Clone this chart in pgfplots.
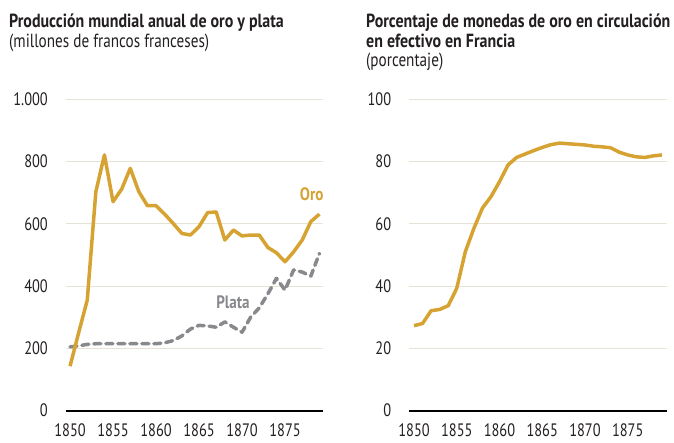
\documentclass[border=0pt]{standalone}
\usepackage{pgfplots}
\pgfplotsset{compat=1.18}
\usepackage{fontspec}
\setmainfont{PT Sans}[FakeStretch=0.8, BoldFeatures={FakeStretch=0.84}]
\definecolor{oro}{RGB}{214,163,51}
\definecolor{plata}{RGB}{136,137,141}
\definecolor{gridc}{RGB}{230,226,212}
\definecolor{txt}{RGB}{35,31,32}
\pgfplotsset{
  mystyle/.style={
    scale only axis,
    anchor=south west,
    axis line style={draw=none},
    major tick length=0pt,
    ymajorgrids,
    grid style={gridc, line width=1pt},
    extra y tick style={grid style={black, line width=2pt}},
    clip=false,
    xtick={1850,1855,1860,1865,1870,1875},
    xticklabels={1850,1855,1860,1865,1870,1875},
    /pgf/number format/assume math mode=true,
    ticklabel style={font=\fontsize{18}{20}\selectfont, text=txt},
    yticklabel style={anchor=east, inner sep=0pt, xshift=-18pt},
    xticklabel style={anchor=north, inner sep=0pt, yshift=-13pt},
  }
}
\begin{document}
\begin{tikzpicture}
\useasboundingbox (0,0) rectangle (674pt,443pt);
% left chart
\begin{axis}[mystyle,
  at={(66pt,32.3pt)}, width=256.7pt, height=311.5pt,
  xmin=1849.53, xmax=1879.38, ymin=0, ymax=1000,
  ytick={200,400,600,800,1000},
  yticklabels={200,400,600,800,1.000},
  extra y ticks={0}, extra y tick labels={0},
]
\addplot[plata, line width=3.5pt, dash pattern=on 7pt off 5pt, line cap=round, line join=round] coordinates {
(1850,205)(1851,208)(1852,213)(1853,215)(1854,215)(1855,215)(1856,215)(1857,215)(1858,215)(1859,215)
(1860,215)(1861,218)(1862,225)(1863,240)(1864,262)(1865,274)(1866,272)(1867,268)(1868,285)(1869,268)
(1870,252)(1871,300)(1872,330)(1873,375)(1874,425)(1875,387)(1876,452)(1877,445)(1878,432)(1879,505)};
\addplot[oro, line width=3.5pt, line join=round] coordinates {
(1850,143)(1851,250)(1852,355)(1853,703)(1854,821)(1855,671)(1856,711)(1857,778)(1858,703)(1859,658)
(1860,658)(1861,631)(1862,601)(1863,569)(1864,564)(1865,591)(1866,636)(1867,638)(1868,548)(1869,580)
(1870,561)(1871,564)(1872,564)(1873,524)(1874,507)(1875,478)(1876,510)(1877,548)(1878,607)(1879,631)};
\node[text=oro, font=\bfseries\fontsize{18}{20}\selectfont] at (axis cs:1878.1,696) {Oro};
\node[text=plata, font=\bfseries\fontsize{18}{20}\selectfont] at (axis cs:1868.95,347) {Plata};
\end{axis}
% right chart
\begin{axis}[mystyle,
  at={(409.3pt,32.3pt)}, width=258pt, height=311.5pt,
  xmin=1849.45, xmax=1879.63, ymin=0, ymax=100,
  ytick={20,40,60,80,100},
  yticklabels={20,40,60,80,100},
  extra y ticks={0}, extra y tick labels={0},
]
\addplot[oro, line width=3.5pt, line join=round] coordinates {
(1850,27.3)(1851,28.0)(1852,32.1)(1853,32.5)(1854,33.7)(1855,39.3)(1856,51)(1857,58.5)(1858,65)(1859,68.7)
(1860,73.5)(1861,78.9)(1862,81.3)(1863,82.4)(1864,83.5)(1865,84.5)(1866,85.4)(1867,85.9)(1868,85.7)(1869,85.5)
(1870,85.3)(1871,84.9)(1872,84.7)(1873,84.4)(1874,83)(1875,82.1)(1876,81.5)(1877,81.3)(1878,81.8)(1879,82.1)};
\end{axis}
% titles
\node[anchor=base west, inner sep=0pt, text=txt, font=\bfseries\fontsize{19}{20}\selectfont] at (9pt,415pt) {Producción mundial anual de oro y plata};
\node[anchor=base west, inner sep=0pt, text=txt, font=\fontsize{19}{20}\selectfont] at (9pt,395pt) {(millones de francos franceses)};
\node[anchor=base west, inner sep=0pt, text=txt, font=\bfseries\fontsize{19}{20}\selectfont] at (366pt,415pt) {Porcentaje de monedas de oro en circulación};
\node[anchor=base west, inner sep=0pt, text=txt, font=\bfseries\fontsize{19}{20}\selectfont] at (366pt,395pt) {en efectivo en Francia};
\node[anchor=base west, inner sep=0pt, text=txt, font=\fontsize{19}{20}\selectfont] at (366pt,376pt) {(porcentaje)};
\end{tikzpicture}
\end{document}
